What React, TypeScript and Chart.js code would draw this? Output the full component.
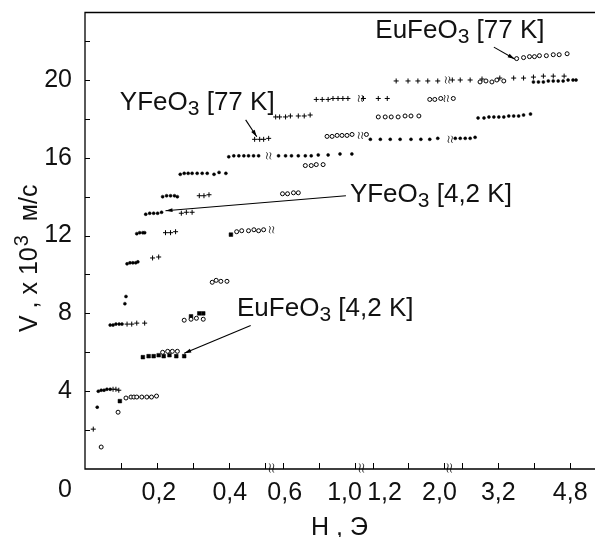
import React, { useEffect, useRef } from "react";
import { Chart, registerables } from "chart.js";
Chart.register(...registerables);

const FONT = "'Liberation Sans', Arial, Helvetica, sans-serif";

// H (Э), V (x10^3 м/с)
const yfeo77K: [number, number][] = [
  [0.023, 2.05],
  [0.078, 4.1], [0.086, 4.1], [0.094, 4.05],
  [0.117, 7.45], [0.13, 7.45], [0.144, 7.5], [0.166, 7.5],
  [0.188, 10.85], [0.205, 10.9],
  [0.224, 12.15], [0.238, 12.15], [0.252, 12.2],
  [0.268, 13.15], [0.282, 13.2], [0.298, 13.2],
  [0.318, 14.05], [0.331, 14.05], [0.345, 14.1],
  [0.472, 16.95], [0.486, 16.95], [0.497, 16.95], [0.522, 17.0],
  [0.561, 18.1], [0.583, 18.1], [0.616, 18.1], [0.643, 18.15], [0.687, 18.15], [0.72, 18.15], [0.753, 18.2],
  [0.787, 19.0], [0.82, 19.0], [0.853, 19.0], [0.88, 19.05], [0.908, 19.05], [0.935, 19.05], [0.963, 19.05],
  [1.099, 19.05], [1.264, 19.05], [1.364, 19.05],
  [1.463, 19.95], [1.595, 19.95], [1.705, 19.95], [1.815, 19.95], [1.926, 19.95], [2.176, 20.0], [2.352, 20.0],
  [2.573, 20.0], [2.837, 20.05], [3.233, 20.1], [3.542, 20.1], [3.762, 20.1], [3.982, 20.15], [4.203, 20.2],
  [4.423, 20.2], [4.665, 20.2],
];

const eufeo77K: [number, number][] = [
  [0.045, 1.13], [0.092, 2.92],
  [0.114, 3.65], [0.128, 3.7], [0.136, 3.7], [0.144, 3.7], [0.158, 3.7], [0.172, 3.7], [0.185, 3.7], [0.199, 3.75],
  [0.216, 6.0], [0.23, 6.05], [0.243, 6.05], [0.257, 6.05],
  [0.276, 7.65], [0.295, 7.7], [0.31, 7.75], [0.329, 7.7],
  [0.354, 9.6], [0.365, 9.7], [0.378, 9.65], [0.395, 9.65],
  [0.422, 12.2], [0.436, 12.25], [0.455, 12.25], [0.47, 12.3], [0.483, 12.25], [0.497, 12.3],
  [0.599, 14.15], [0.627, 14.15], [0.66, 14.2], [0.687, 14.2],
  [0.726, 15.6], [0.759, 15.6], [0.787, 15.65], [0.825, 15.65],
  [0.847, 17.1], [0.875, 17.1], [0.903, 17.15], [0.93, 17.15], [0.958, 17.15], [0.986, 17.2], [1.132, 17.2],
  [1.264, 18.1], [1.341, 18.1], [1.408, 18.1], [1.485, 18.1], [1.562, 18.15], [1.628, 18.15], [1.716, 18.15],
  [1.837, 19.0], [1.893, 19.0], [1.959, 19.05], [2.198, 19.05],
  [2.793, 19.9], [2.925, 19.95], [3.057, 19.9], [3.167, 20.0], [3.322, 19.95],
  [3.608, 21.1], [3.762, 21.15], [3.894, 21.2], [4.004, 21.2], [4.115, 21.25], [4.269, 21.25], [4.423, 21.3],
  [4.555, 21.3], [4.731, 21.35],
];

const yfeo42K: [number, number][] = [
  [0.034, 3.18],
  [0.037, 4.0], [0.045, 4.05], [0.053, 4.05], [0.061, 4.1], [0.07, 4.1],
  [0.07, 7.4], [0.078, 7.4], [0.086, 7.45], [0.095, 7.45], [0.103, 7.45],
  [0.111, 8.5], [0.114, 8.87],
  [0.117, 10.55], [0.125, 10.6], [0.133, 10.6], [0.141, 10.6], [0.147, 10.65],
  [0.144, 12.1], [0.152, 12.15], [0.161, 12.15], [0.166, 12.15],
  [0.169, 13.1], [0.18, 13.15], [0.191, 13.15], [0.202, 13.15], [0.213, 13.2],
  [0.216, 14.0], [0.227, 14.05], [0.238, 14.05], [0.249, 14.05], [0.257, 14.0],
  [0.265, 15.15], [0.276, 15.2], [0.287, 15.2], [0.298, 15.2], [0.312, 15.2], [0.326, 15.2], [0.34, 15.2],
  [0.359, 15.15], [0.373, 15.25], [0.392, 15.2],
  [0.4, 16.05], [0.414, 16.1], [0.428, 16.1], [0.442, 16.1], [0.455, 16.1], [0.469, 16.1], [0.483, 16.1],
  [0.577, 16.1], [0.616, 16.1], [0.649, 16.1], [0.687, 16.1], [0.726, 16.1], [0.759, 16.1], [0.798, 16.15],
  [0.853, 16.15], [0.919, 16.2], [0.985, 16.2],
  [1.176, 16.95], [1.287, 16.95], [1.397, 16.95], [1.507, 16.95], [1.628, 16.95], [1.738, 16.95], [1.837, 16.95],
  [1.926, 17.0], [2.242, 17.0], [2.352, 17.0], [2.463, 17.0], [2.573, 17.0], [2.683, 17.05],
  [2.749, 18.05], [2.881, 18.05], [2.991, 18.1], [3.101, 18.1], [3.211, 18.1], [3.322, 18.1], [3.432, 18.15],
  [3.542, 18.15], [3.652, 18.15], [3.762, 18.2], [3.916, 18.25],
  [3.982, 19.9], [4.093, 19.9], [4.203, 19.9], [4.313, 19.95], [4.423, 19.95], [4.533, 19.95], [4.643, 19.95],
  [4.753, 20.0], [4.863, 20.0], [4.93, 20.0],
];

const eufeo42K: [number, number][] = [
  [0.097, 3.49],
  [0.161, 5.75], [0.177, 5.8], [0.191, 5.8], [0.205, 5.85], [0.219, 5.8], [0.235, 5.85], [0.254, 5.8], [0.276, 5.8],
  [0.295, 7.85], [0.318, 8.0], [0.329, 8.0],
  [0.406, 12.05],
];

// axis
const xTickValues = [0.1, 0.2, 0.3, 0.4, 0.5, 0.6, 0.8, 1.0, 1.2, 1.6, 2.0, 2.4, 3.2, 4.0, 4.8];
const xLabelValues = [0.2, 0.4, 0.6, 1.0, 1.2, 2.0, 3.2, 4.8];
const xLabelTexts = ["0,2", "0,4", "0,6", "1,0", "1,2", "2,0", "3,2", "4,8"];
const xLabelShift = [2, 1, 2, -10, 12, -5, 0, 0];
const xAxisBreaks = [0.538, 1.077, 2.11];
const rowBreaks: [number, number][] = [
  [0.522, 16.1], [0.538, 12.3], [1.066, 17.15], [1.066, 19.05], [2.13, 16.95], [2.04, 19.05], [2.07, 20.0],
];

type Note = { main: string; sub: string; rest: string; at: [number, number]; from: [number, number]; to: [number, number] };
const notes: Note[] = [
  { main: "YFeO", sub: "3", rest: " [77 K]", at: [0.097, 18.46], from: [0.447, 17.95], to: [0.478, 17.08] },
  { main: "EuFeO", sub: "3", rest: " [77 K]", at: [1.231, 22.15], from: [3.101, 21.69], to: [3.564, 21.08] },
  { main: "YFeO", sub: "3", rest: " [4,2 K]", at: [0.974, 13.74], from: [0.952, 14.05], to: [0.224, 13.28] },
  { main: "EuFeO", sub: "3", rest: " [4,2 K]", at: [0.423, 7.85], from: [0.461, 7.38], to: [0.276, 5.95] },
];

// broken H axis: piecewise linear position
function h2u(h: number): number {
  if (h <= 0.5) return 10 * h - 1;
  if (h <= 1.0) return 4 + (h - 0.5) / 0.2;
  if (h <= 2.0) return 6.5 + (h - 1.0) / 0.4;
  return 9 + (h - 2.0) / 0.8;
}

function squiggle(ctx: CanvasRenderingContext2D, x: number, y: number, h: number) {
  for (const dx of [-1.7, 1.7]) {
    ctx.beginPath();
    ctx.moveTo(x + dx - 0.5, y - h / 2);
    ctx.bezierCurveTo(x + dx + 2.4, y - h / 6, x + dx - 2.4, y + h / 6, x + dx + 0.5, y + h / 2);
    ctx.stroke();
  }
}

export default function App() {
  const ref = useRef<HTMLCanvasElement>(null);
  useEffect(() => {
    const canvas = ref.current;
    if (!canvas) return;
    const toPts = (arr: [number, number][]) => arr.map(([h, v]) => ({ x: h2u(h), y: v }));

    const decor = {
      id: "decor",
      afterDraw(chart: any) {
        const { ctx, chartArea: a, scales } = chart;
        const xs = scales.x, ys = scales.y;
        const px = (h: number) => xs.getPixelForValue(h2u(h));
        const py = (v: number) => ys.getPixelForValue(v);
        ctx.save();
        ctx.strokeStyle = "#000";
        ctx.fillStyle = "#111";
        // frame
        ctx.lineWidth = 1.3;
        ctx.beginPath();
        ctx.moveTo(a.right, a.top);
        ctx.lineTo(a.left, a.top);
        ctx.lineTo(a.left, a.bottom);
        ctx.lineTo(a.right, a.bottom);
        ctx.stroke();
        // ticks
        ctx.lineWidth = 1;
        ys.ticks.forEach((t: any) => {
          if (!Number.isInteger(t.value) || t.value <= 0) return;
          const y = Math.round(py(t.value)) + 0.5;
          ctx.beginPath();
          ctx.moveTo(a.left, y);
          ctx.lineTo(a.left + 5, y);
          ctx.stroke();
        });
        xTickValues.forEach((h) => {
          const x = Math.round(px(h)) + 0.5;
          ctx.beginPath();
          ctx.moveTo(x, a.bottom);
          ctx.lineTo(x, a.bottom - 6);
          ctx.stroke();
        });
        // breaks
        ctx.lineWidth = 0.9;
        xAxisBreaks.forEach((h) => squiggle(ctx, px(h), a.bottom - 1, 9));
        rowBreaks.forEach(([h, v]) => squiggle(ctx, px(h), py(v), 7));
        // x labels
        ctx.font = `25px ${FONT}`;
        ctx.textAlign = "center";
        ctx.textBaseline = "alphabetic";
        xLabelValues.forEach((h, i) => ctx.fillText(xLabelTexts[i], px(h) + xLabelShift[i], 500));
        ctx.textAlign = "right";
        ctx.fillText("0", 72, 497);
        // x title
        ctx.textAlign = "left";
        ctx.fillText("H , Э", 311, 535);
        // y title
        ctx.save();
        ctx.translate(37, 332);
        ctx.rotate(-Math.PI / 2);
        ctx.font = `25px ${FONT}`;
        let tx = 0;
        const p1 = "V , x 10";
        ctx.fillText(p1, tx, 0);
        tx += ctx.measureText(p1).width + 1;
        ctx.font = `20px ${FONT}`;
        ctx.fillText("3", tx, -9);
        tx += ctx.measureText("3").width;
        ctx.font = `25px ${FONT}`;
        ctx.fillText("  м/с", tx, 0);
        ctx.restore();
        // notes
        notes.forEach((n) => {
          const x0 = px(n.at[0]);
          const y0 = py(n.at[1]);
          let x = x0;
          ctx.textAlign = "left";
          ctx.font = `26px ${FONT}`;
          ctx.fillText(n.main, x, y0);
          x += ctx.measureText(n.main).width;
          ctx.font = `21px ${FONT}`;
          ctx.fillText(n.sub, x, y0 + 5);
          x += ctx.measureText(n.sub).width;
          ctx.font = `26px ${FONT}`;
          ctx.fillText(n.rest, x, y0);
          // leader line with arrow
          const fx = px(n.from[0]), fy = py(n.from[1]);
          const ex = px(n.to[0]), ey = py(n.to[1]);
          ctx.lineWidth = 1.1;
          ctx.beginPath();
          ctx.moveTo(fx, fy);
          ctx.lineTo(ex, ey);
          ctx.stroke();
          const ang = Math.atan2(ey - fy, ex - fx);
          const L = 7, W = 2;
          ctx.beginPath();
          ctx.moveTo(ex, ey);
          ctx.lineTo(ex - L * Math.cos(ang) + W * Math.sin(ang), ey - L * Math.sin(ang) - W * Math.cos(ang));
          ctx.lineTo(ex - L * Math.cos(ang) - W * Math.sin(ang), ey - L * Math.sin(ang) + W * Math.cos(ang));
          ctx.closePath();
          ctx.fillStyle = "#000";
          ctx.fill();
          ctx.fillStyle = "#111";
        });
        ctx.restore();
      },
    };

    const chart = new Chart(canvas, {
      type: "scatter",
      data: {
        datasets: [
          { label: "YFeO3 [77 K]", data: toPts(yfeo77K), pointStyle: "cross", pointRadius: 2.5, borderColor: "#000", borderWidth: 1 },
          { label: "EuFeO3 [77 K]", data: toPts(eufeo77K), pointStyle: "circle", pointRadius: 2, borderColor: "#000", backgroundColor: "#fff", borderWidth: 1 },
          { label: "YFeO3 [4,2 K]", data: toPts(yfeo42K), pointStyle: "circle", pointRadius: 1.5, borderColor: "#000", backgroundColor: "#000", borderWidth: 0.5 },
          { label: "EuFeO3 [4,2 K]", data: toPts(eufeo42K), pointStyle: "rect", pointRadius: 2.6, borderColor: "#000", backgroundColor: "#000", borderWidth: 0.5 },
        ],
      } as any,
      options: {
        animation: false,
        responsive: false,
        devicePixelRatio: 1,
        layout: { padding: { top: 12.5, left: 0, right: 0, bottom: 0 } },
        plugins: { legend: { display: false }, tooltip: { enabled: false } },
        scales: {
          x: {
            type: "linear",
            min: -1,
            max: 13.19,
            grid: { display: false, drawTicks: false },
            border: { display: false },
            ticks: { display: false },
            afterFit: (s: any) => { s.height = 68; },
          },
          y: {
            type: "linear",
            min: 0,
            max: 23.47,
            grid: { display: false, drawTicks: false },
            border: { display: false },
            ticks: {
              stepSize: 2,
              autoSkip: false,
              padding: 13,
              color: "#111",
              font: { size: 25, family: FONT },
              callback: (v: any) => (Number(v) % 4 === 0 && Number(v) > 0 ? String(v) : ""),
            },
            afterFit: (s: any) => { s.width = 85; s.paddingTop = 0; s.paddingBottom = 0; },
          },
        },
      } as any,
      plugins: [decor],
    });
    return () => chart.destroy();
  }, []);

  return (
    <div style={{ position: "absolute", left: 0, top: 0, width: 600, height: 537, background: "#fff" }}>
      <canvas ref={ref} width={600} height={537} style={{ display: "block" }} />
    </div>
  );
}
